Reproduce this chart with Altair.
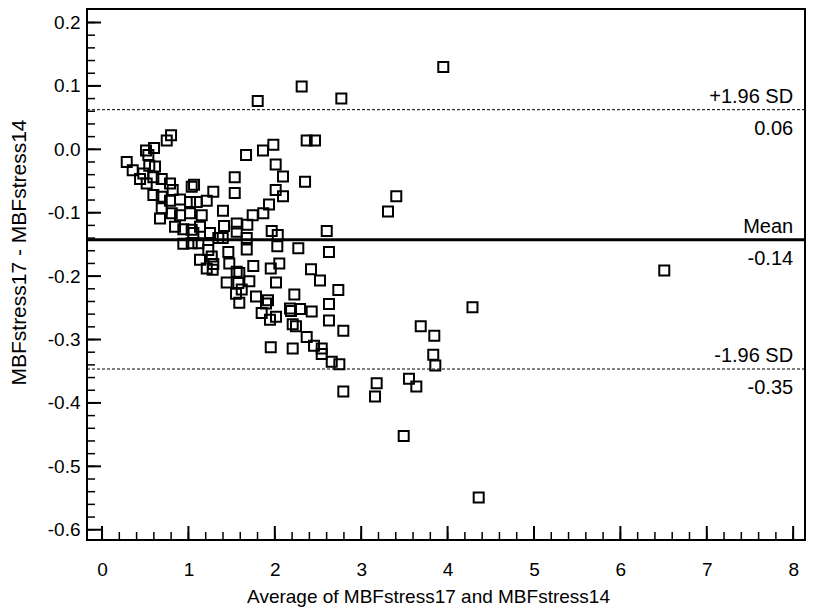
import altair as alt
import pandas as pd

# ---- data ----
avg_a = [3.950, 2.311, 2.770, 1.802, 2.369, 2.465, 0.799, 0.749, 1.983, 1.863, 1.667,
         2.010, 2.095, 1.536, 2.350, 2.010, 1.536, 2.095, 3.406, 3.310, 1.933, 2.601]
diff_a = [0.130, 0.099, 0.080, 0.076, 0.014, 0.014, 0.022, 0.014, 0.007, -0.002, -0.009,
          -0.024, -0.043, -0.044, -0.051, -0.064, -0.069, -0.074, -0.074, -0.098, -0.087, -0.129]

avg_b = [0.509, 0.602, 0.286, 0.355, 0.478, 0.547, 0.613, 0.440, 0.517, 0.594,
         0.691, 0.787, 0.818, 0.594, 0.691, 0.787, 0.903, 1.019, 1.038, 1.065,
         0.691, 0.671, 0.807, 0.903, 1.019, 0.845, 0.941, 1.038, 0.941, 1.038]
diff_b = [-0.002, 0.002, -0.020, -0.033, -0.038, -0.026, -0.027, -0.047, -0.054, -0.044,
          -0.047, -0.054, -0.064, -0.072, -0.075, -0.081, -0.079, -0.083, -0.059, -0.056,
          -0.093, -0.109, -0.101, -0.104, -0.101, -0.122, -0.126, -0.127, -0.149, -0.148]

avg_c = [1.212, 1.096, 1.288, 1.400, 1.154, 1.057, 1.134, 1.250, 1.412, 1.559,
         1.559, 1.682, 1.115, 1.230, 1.346, 1.397, 1.462, 1.675, 1.134, 1.270,
         1.288, 1.212, 1.281, 1.473, 1.559, 1.589, 1.443, 1.578, 1.617, 1.551, 1.589]
diff_c = [-0.081, -0.083, -0.067, -0.097, -0.104, -0.132, -0.122, -0.132, -0.121, -0.117,
          -0.130, -0.119, -0.148, -0.159, -0.140, -0.140, -0.162, -0.158, -0.174, -0.169,
          -0.181, -0.188, -0.190, -0.180, -0.193, -0.195, -0.210, -0.211, -0.221, -0.228, -0.242]

avg_d = [1.744, 1.867, 1.675, 1.964, 2.034, 2.029, 2.272, 2.627, 1.751, 1.953,
         2.052, 2.419, 2.523, 1.705, 2.014, 1.782, 2.226, 2.735, 1.898, 1.921,
         1.848, 1.944, 2.014, 2.176, 2.188, 2.292, 2.427, 2.627, 2.627, 2.207,
         2.245, 2.369, 2.454, 2.543, 2.543, 2.659, 2.747, 2.793, 1.953, 2.207,
         2.793, 3.179, 3.160, 3.492, 3.553, 3.638, 3.689, 3.846, 3.834, 3.858,
         4.288, 4.360, 6.508, 0.536]
diff_d = [-0.104, -0.101, -0.140, -0.129, -0.135, -0.153, -0.156, -0.162, -0.184, -0.188,
          -0.180, -0.189, -0.207, -0.208, -0.210, -0.232, -0.229, -0.222, -0.243, -0.238,
          -0.258, -0.269, -0.264, -0.251, -0.255, -0.252, -0.256, -0.244, -0.270, -0.276,
          -0.279, -0.296, -0.310, -0.314, -0.323, -0.335, -0.339, -0.286, -0.312, -0.314,
          -0.382, -0.369, -0.390, -0.452, -0.362, -0.374, -0.279, -0.294, -0.324, -0.341,
          -0.249, -0.549, -0.191, -0.009]

mean_value = [-0.1425]
sd_values = [0.0625, -0.3465]
line_values = [0.0625, -0.1425, -0.3465]
label_above = ["+1.96 SD", "Mean", "-1.96 SD"]
label_below = ["0.06", "-0.14", "-0.35"]
label_x = [8.0, 8.0, 8.0]

x_major = [0, 1, 2, 3, 4, 5, 6, 7, 8]
x_minor = [round(0.2 * i, 1) for i in range(41)]
y_major = [-0.6, -0.5, -0.4, -0.3, -0.2, -0.1, 0.0, 0.1, 0.2]
y_minor = [round(-0.6 + 0.02 * i, 2) for i in range(41)]

x_title = "Average of MBFstress17 and MBFstress14"
y_title = "MBFstress17 - MBFstress14"

# ---- layout ----
W, H = 718, 531
FONT = "Liberation Sans"

xs = alt.Scale(domain=[-0.174, 8.137], nice=False, zero=False)
ys = alt.Scale(domain=[-0.6162, 0.2213], nice=False, zero=False)

x_axis = alt.Axis(
    values=x_major, format="d", ticks=False, domain=False, grid=False,
    labelPadding=20, labelFontSize=19, labelFont=FONT, labelColor="black",
    title=x_title, titleFont=FONT, titleFontSize=19, titleFontWeight="normal",
    titleColor="black", titleX=341, titleY=62,
    titleBaseline="alphabetic", titleAlign="center")
y_axis = alt.Axis(
    values=y_major, ticks=False, domain=False, grid=False,
    labelExpr="datum.value < -0.00001 ? '-' + format(-datum.value, '.1f') : format(datum.value, '.1f')",
    labelPadding=7, labelFontSize=19, labelFont=FONT, labelColor="black",
    title=y_title, titleFont=FONT, titleFontSize=21, titleFontWeight="normal",
    titleColor="black", titleX=-68, titleY=243, titleAngle=270,
    titleBaseline="middle", titleAlign="center")

pts = pd.DataFrame({"avg": avg_a + avg_b + avg_c + avg_d,
                    "diff": diff_a + diff_b + diff_c + diff_d})

points = alt.Chart(pts).mark_point(
    shape="square", filled=False, size=100, strokeWidth=2, color="black", opacity=1
).encode(
    x=alt.X("avg:Q", scale=xs, axis=x_axis),
    y=alt.Y("diff:Q", scale=ys, axis=y_axis),
)

ytick_major = alt.Chart(pd.DataFrame({"v": y_major})).mark_rule(
    color="black", strokeWidth=2).encode(
    y=alt.Y("v:Q", scale=ys, axis=y_axis), x=alt.value(0), x2=alt.value(14))
ytick_minor = alt.Chart(pd.DataFrame({"v": y_minor})).mark_rule(
    color="black", strokeWidth=1.5).encode(
    y=alt.Y("v:Q", scale=ys, axis=y_axis), x=alt.value(0), x2=alt.value(8))
xtick_major = alt.Chart(pd.DataFrame({"v": x_major})).mark_rule(
    color="black", strokeWidth=2).encode(
    x=alt.X("v:Q", scale=xs, axis=x_axis), y=alt.value(H), y2=alt.value(H - 14))
xtick_minor = alt.Chart(pd.DataFrame({"v": x_minor})).mark_rule(
    color="black", strokeWidth=1.5).encode(
    x=alt.X("v:Q", scale=xs, axis=x_axis), y=alt.value(H), y2=alt.value(H - 8))

mean_line = alt.Chart(pd.DataFrame({"v": mean_value})).mark_rule(
    color="black", strokeWidth=3).encode(
    y=alt.Y("v:Q", scale=ys, axis=y_axis), x=alt.value(0), x2=alt.value(W))
sd_lines = alt.Chart(pd.DataFrame({"v": sd_values})).mark_rule(
    color="black", strokeWidth=1, strokeDash=[3, 2]).encode(
    y=alt.Y("v:Q", scale=ys, axis=y_axis), x=alt.value(0), x2=alt.value(W))

lab = pd.DataFrame({"x": label_x, "v": line_values, "above": label_above, "below": label_below})
text_above = alt.Chart(lab).mark_text(
    align="right", baseline="alphabetic", dy=-7, fontSize=20, font=FONT, color="black").encode(
    x=alt.X("x:Q", scale=xs, axis=x_axis), y=alt.Y("v:Q", scale=ys, axis=y_axis), text="above:N")
text_below = alt.Chart(lab).mark_text(
    align="right", baseline="alphabetic", dy=25, fontSize=20, font=FONT, color="black").encode(
    x=alt.X("x:Q", scale=xs, axis=x_axis), y=alt.Y("v:Q", scale=ys, axis=y_axis), text="below:N")

chart = alt.layer(
    points, sd_lines, mean_line, ytick_minor, ytick_major, xtick_minor, xtick_major,
    text_above, text_below
).properties(
    width=W, height=H,
    padding={"left": 79, "top": 1, "right": 4, "bottom": 72},
    autosize=alt.AutoSizeParams(type="none"),
    background="white",
).configure_view(stroke="black", strokeWidth=2)

chart.save("out.html", embed_options={"renderer": "svg", "actions": False})
